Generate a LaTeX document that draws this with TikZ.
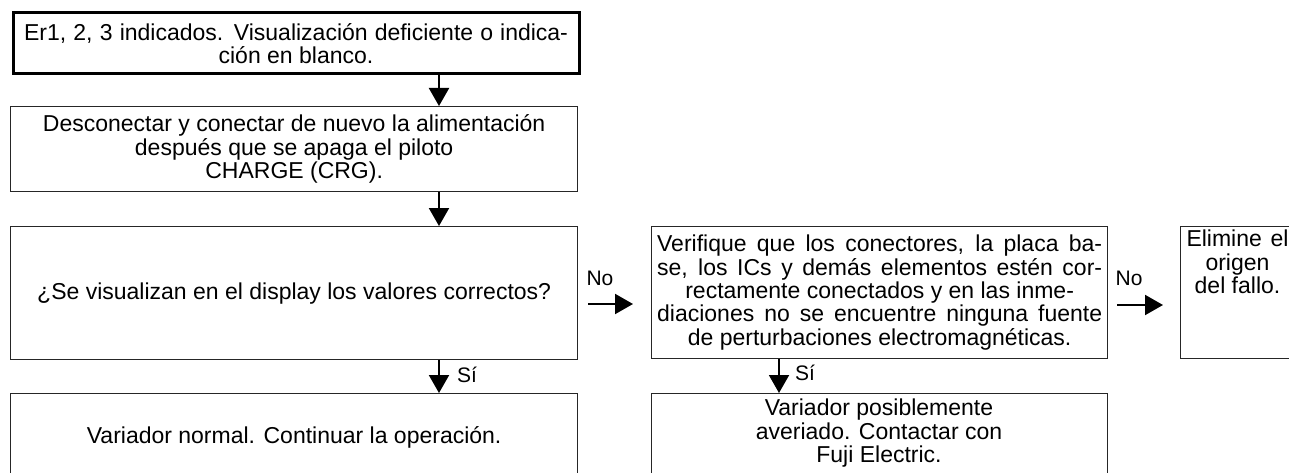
\documentclass[tikz,border=0pt]{standalone}
\usepackage{fontspec}
\setmainfont{Liberation Sans}
\usetikzlibrary{arrows.meta}
\newcommand\mainsize{\fontsize{23}{23.3}\selectfont}
\newcommand\lblsize{\fontsize{21}{22}\selectfont}
\begin{document}
\begin{tikzpicture}[x=1pt,y=-1pt,
  box/.style={draw=black!85, line width=1.3pt, inner sep=0pt, anchor=north west, align=center, font=\mainsize},
  thickbox/.style={box, draw=black, line width=3pt},
  txt/.style={inner sep=0pt, align=center, font=\mainsize},
  arr/.style={line width=2pt, -{Triangle[width=20pt,length=18pt]}},
  lbl/.style={font=\lblsize, inner sep=0pt}]
\useasboundingbox (0,0) rectangle (1289,473);
\clip (0,0) rectangle (1289,473);
% boxes
\node[thickbox, minimum width=566, minimum height=61] (b1) at (11.5,11.5)
  {\makebox[544pt][s]{Er1, 2, 3 indicados. Visualización deficiente o indica-}\\ción en blanco.};
\node[box, minimum width=567, minimum height=85] (b2) at (10,106)
  {Desconectar y conectar de nuevo la alimentación\\después que se apaga el piloto\\CHARGE (CRG).};
\node[box, minimum width=567, minimum height=133] (b3) at (10,226)
  {¿Se visualizan en el display los valores correctos?};
\node[box, minimum width=567, minimum height=90] (b4) at (10,393)
  {\raisebox{8pt}{Variador normal. Continuar la operación.}};
\node[box, minimum width=456, minimum height=132] (b5) at (651,226)
  {\makebox[445pt][s]{Verifique que los conectores, la placa ba-}\\
   \makebox[445pt][s]{se, los ICs y demás elementos estén cor-}\\
   rectamente conectados y en las inme-\\
   \makebox[445pt][s]{diaciones no se encuentre ninguna fuente}\\
   de perturbaciones electromagnéticas.};
\node[box, minimum width=456, minimum height=90] (b6) at (651,393) {};
\node[txt, anchor=north] (t6) at (879,399)
  {Variador posiblemente\\averiado. Contactar con\\Fuji Electric.};
\node[box, minimum width=115, minimum height=132] (b7) at (1180,226) {};
\node[txt, anchor=north] (t7) at (1237.5,230)
  {\makebox[102pt][s]{Elimine el}\\origen\\del fallo.};
% connector x positions
\coordinate (cx1) at (439,0);
\coordinate (cx2) at (779,0);
\draw[arr] (b1.south -| cx1) -- (b2.north -| cx1);
\draw[arr] (b2.south -| cx1) -- (b3.north -| cx1);
\draw[arr] (b3.south -| cx1) -- (b4.north -| cx1);
\node[lbl, anchor=west] (s1) at (457,375) {Sí};
\draw[arr] (b5.south -| cx2) -- (b6.north -| cx2);
\node[lbl, anchor=west] (s2) at (795,373) {Sí};
% No arrows
\coordinate (n1a) at (588,304);
\coordinate (n1b) at (633,304);
\draw[arr] (n1a) -- (n1b);
\node[lbl] (no1) at (600,278) {No};
\coordinate (n2a) at (1117,305);
\coordinate (n2b) at (1163,305);
\draw[arr] (n2a) -- (n2b);
\node[lbl] (no2) at (1129,278) {No};
\end{tikzpicture}
\end{document}
